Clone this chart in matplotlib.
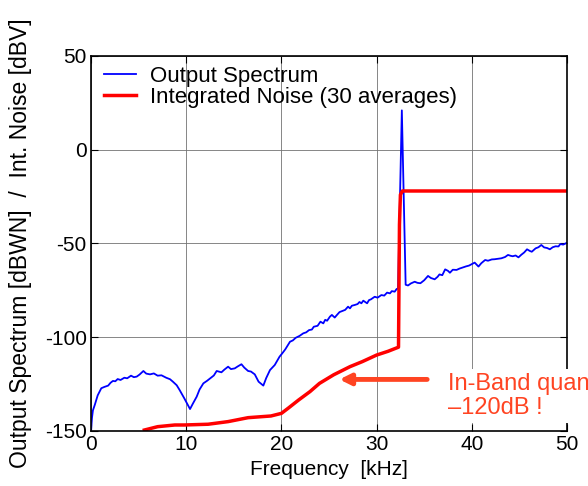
import matplotlib.pyplot as plt

plt.rcParams['font.family'] = ['Liberation Sans', 'DejaVu Sans']
plt.rcParams['axes.unicode_minus'] = False

# Output spectrum (blue)
spec_f = [0.0, 0.1, 0.2, 0.4, 0.7, 1.08, 1.4, 1.8, 2.05, 2.3, 2.55, 2.8, 3.1, 3.5,
          3.8, 4.2, 4.5, 4.8, 5.1, 5.5, 5.8, 6.2, 6.6, 7.0, 7.4, 7.9, 8.3, 8.6,
          9.0, 9.3, 9.8, 10.1, 10.4, 10.7, 11.1, 11.4, 11.8, 12.2, 12.6, 12.9,
          13.2, 13.7, 14.0, 14.4, 14.7, 15.1, 15.4, 15.8, 16.1, 16.5, 16.8, 17.2,
          17.6, 18.1, 18.4, 18.8, 19.3, 19.8, 20.1, 20.4, 20.9, 21.2, 21.5, 21.9,
          22.3, 22.6, 22.9, 23.2, 23.4, 23.8, 24.1, 24.4, 24.6, 24.8, 25.1, 25.3,
          25.6, 25.8, 26.1, 26.4, 26.7, 27.0, 27.2, 27.4, 27.7, 28.0, 28.2, 28.4,
          28.6, 29.0, 29.2, 29.4, 29.8, 30.1, 30.5, 30.8, 31.1, 31.4, 31.6, 31.9,
          32.1, 32.25, 32.65, 33.05, 33.3, 33.6, 34.0, 34.3, 34.6, 35.0, 35.4,
          35.7, 36.1, 36.4, 36.6, 36.9, 37.2, 37.5, 37.7, 38.0, 38.4, 38.7, 39.1,
          39.4, 39.7, 40.0, 40.3, 40.7, 41.0, 41.4, 41.7, 42.1, 42.4, 42.8, 43.1,
          43.5, 43.8, 44.1, 44.3, 44.6, 44.9, 45.2, 45.5, 45.8, 46.1, 46.3, 46.7,
          47.0, 47.3, 47.6, 47.9, 48.2, 48.5, 48.8, 49.1, 49.3, 49.6, 50.0]
spec_db = [-150, -143, -139, -136, -131, -127.2, -126.5, -125.8, -124.3, -123.3,
           -123.5, -122.3, -122.8, -121.6, -121.9, -120.5, -121.3, -121.0, -119.9,
           -118.0, -119.4, -119.8, -119.3, -120.5, -120.3, -121.6, -122.4, -123.7,
           -125.6, -128.1, -132.6, -135.5, -138.3, -135.4, -131.7, -127.9, -124.6,
           -123.2, -121.6, -120.4, -118.0, -118.7, -117.3, -115.7, -117.0, -116.6,
           -115.6, -114.4, -116.2, -118.0, -118.3, -119.8, -123.7, -125.8, -121.8,
           -117.5, -114.8, -110.4, -108.5, -106.5, -102.4, -101.7, -100.3, -99.3,
           -97.9, -97.4, -96.2, -95.9, -94.4, -93.9, -91.7, -92.6, -90.7, -91.2,
           -89.0, -88.1, -89.5, -88.3, -86.6, -86.0, -85.4, -83.7, -84.6, -83.2,
           -82.8, -82.3, -81.2, -81.9, -80.5, -81.9, -80.2, -79.8, -78.4, -78.9,
           -77.5, -77.8, -76.2, -76.6, -75.4, -75.7, -74.3, -74.0, 21.0, -72.0,
           -72.4, -71.3, -70.4, -71.0, -71.2, -69.6, -67.3, -68.4, -69.1, -67.8,
           -66.5, -66.9, -63.8, -64.6, -65.6, -64.0, -64.1, -63.4, -62.7, -62.2,
           -61.8, -61.0, -60.2, -62.3, -60.5, -58.8, -59.2, -58.5, -58.4, -58.1,
           -57.9, -57.2, -56.1, -56.6, -56.8, -56.4, -57.4, -56.0, -54.8, -53.1,
           -54.0, -54.4, -52.6, -52.0, -50.8, -52.1, -52.4, -53.1, -52.0, -51.5,
           -51.6, -50.3, -50.6, -49.6]

# Integrated noise (red)
noise_f = [5.6, 7.0, 8.8, 9.8, 12.3, 14.4, 16.5, 18.9, 20.0, 20.7, 21.8, 23.0, 24.0,
           25.5, 27.2, 28.5, 30.0, 31.2, 32.3, 32.4, 32.5, 32.7, 50.0]
noise_db = [-149.5, -147.7, -146.8, -146.8, -146.4, -145.0, -142.9, -142.0, -140.6,
            -137.9, -133.5, -129.0, -124.6, -120.0, -115.7, -113.0, -109.5, -107.5,
            -105.3, -40.0, -24.0, -22.0, -22.0]

x_ticks = [0, 10, 20, 30, 40, 50]
y_ticks = [-150, -100, -50, 0, 50]

ann_color = '#ff4422'

fig = plt.figure(figsize=(5.88, 4.86), dpi=100)
ax = fig.add_axes([0.1548, 0.1132, 0.8095, 0.7716])

ax.plot(spec_f, spec_db, color='#0000ff', lw=1.3, label='Output Spectrum')
ax.plot(noise_f, noise_db, color='#ff0000', lw=2.5, label='Integrated Noise (30 averages)')

ax.set_xlim(0, 50)
ax.set_ylim(-150, 50)
ax.set_xticks(x_ticks)
ax.set_yticks(y_ticks)
ax.grid(True, color='0.45', lw=0.6)
ax.tick_params(direction='in', length=5, labelsize=15, top=True, right=True, pad=3)
for s in ax.spines.values():
    s.set_linewidth(1.2)

ax.set_xlabel('Frequency  [kHz]', fontsize=15, labelpad=4)
ax.set_ylabel('Output Spectrum [dBWN]  /  Int. Noise [dBV]', fontsize=16.5, labelpad=8)
ax.yaxis.set_label_coords(-0.123, 0.5)

ax.legend(loc='upper left', bbox_to_anchor=(-0.005, 1.015), frameon=False, fontsize=16,
          handlelength=1.45, handletextpad=0.6, labelspacing=0.0, borderaxespad=0.3)

# annotation arrow and text
ax.annotate('', xy=(25.8, -122.5), xytext=(35.6, -122.5),
            arrowprops=dict(arrowstyle='-|>', color=ann_color, lw=3.5, mutation_scale=16))
ax.text(37.5, -131.5, 'In-Band quantization noise\n\u2013120dB !', color=ann_color,
        fontsize=17, ha='left', va='center', linespacing=1.1, clip_on=False,
        bbox=dict(facecolor='white', edgecolor='none', pad=3))

fig.savefig('out.png', dpi=100)
